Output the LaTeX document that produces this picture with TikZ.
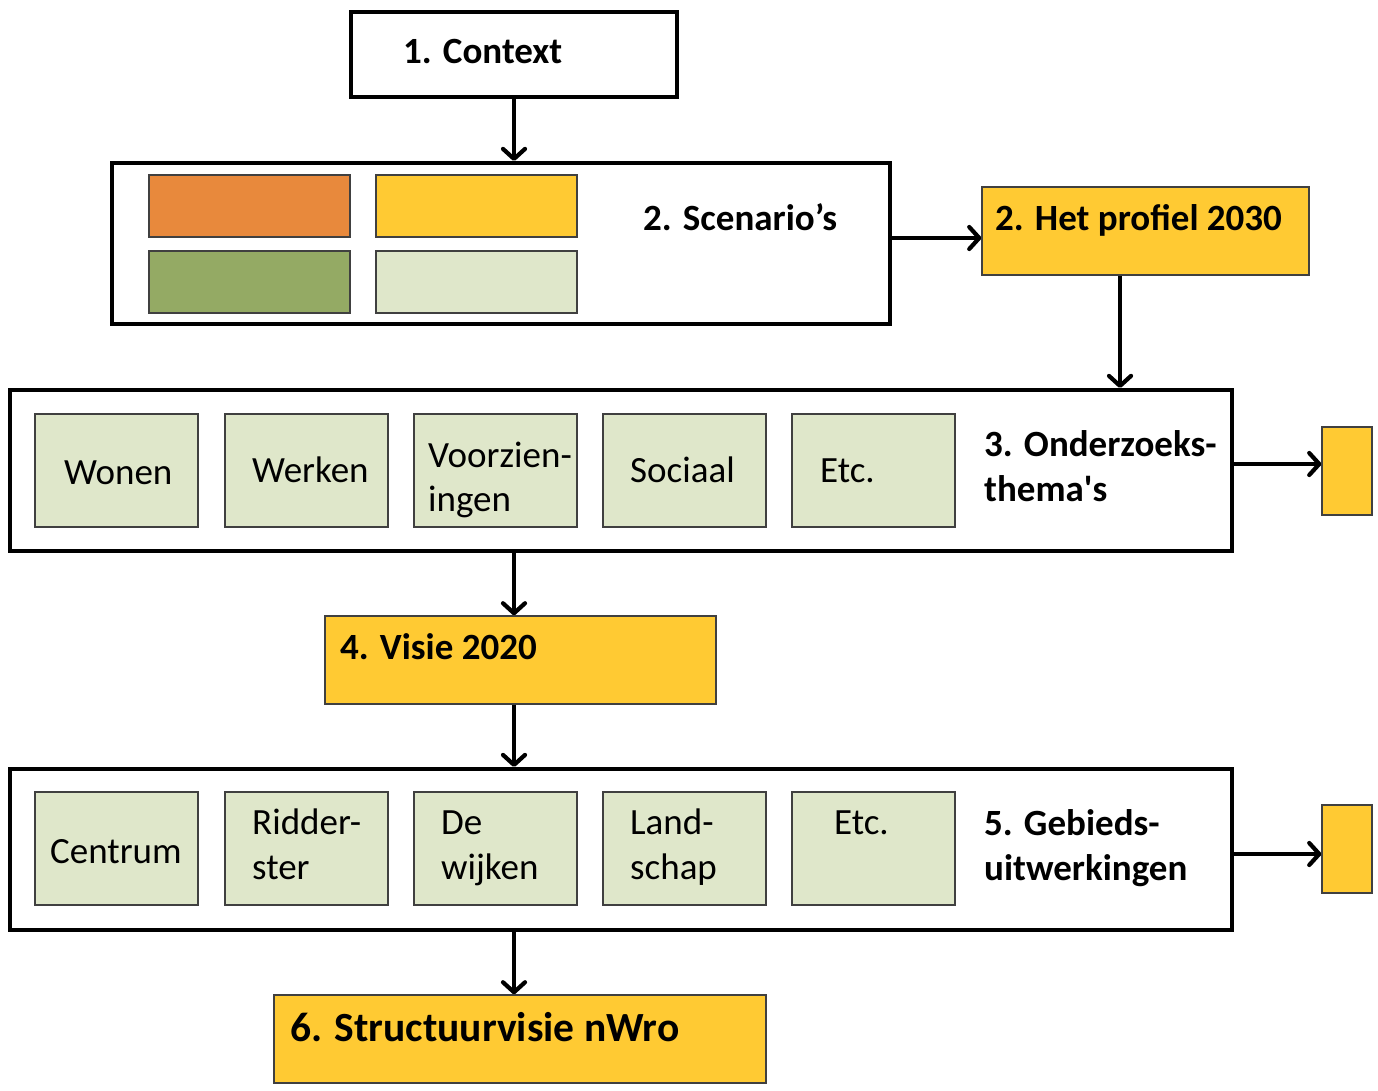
\documentclass[tikz,border=0pt]{standalone}
\usepackage{fontspec}
\setmainfont{Carlito}[Ligatures=TeXOff]
\usetikzlibrary{arrows.meta,calc}
\definecolor{cOrange}{HTML}{E8893C}
\definecolor{cYellow}{HTML}{FFCA33}
\definecolor{cGreen}{HTML}{94AA64}
\definecolor{cLight}{HTML}{DFE7CA}
\definecolor{cEdge}{HTML}{404040}
\begin{document}
\begin{tikzpicture}[x=1pt,y=-1pt,
  bigbox/.style={draw=black,line width=4pt,fill=white,inner sep=0pt},
  smallbox/.style={draw=cEdge,line width=1.3pt,inner sep=0pt},
  themebox/.style={smallbox,fill=cLight,minimum width=163pt,minimum height=113pt},
  ybox/.style={smallbox,fill=cYellow},
  arr/.style={line width=4.2pt,-{Straight Barb[length=10pt,width=22pt,line width=0pt 1,round]}},
  ttl/.style={anchor=base west,inner sep=0pt,font=\fontsize{37}{44}\selectfont\bfseries},
  txt/.style={anchor=base west,inner sep=0pt,font=\fontsize{37}{44}\selectfont}]
\useasboundingbox[fill=white] (0,0) rectangle (1378,1090);

% 1. Context
\node[bigbox,minimum width=326pt,minimum height=85pt] (ctx) at (514,54.5) {};
\node[ttl] (ctxt) at (403,63) {1. Context};

% 2. Scenario's
\node[bigbox,minimum width=778pt,minimum height=161pt] (scen) at (501,243.5) {};
\node[smallbox,fill=cOrange,minimum width=201pt,minimum height=62pt] (s1) at (249.5,206) {};
\node[smallbox,fill=cYellow,minimum width=201pt,minimum height=62pt] (s2) at (476.5,206) {};
\node[smallbox,fill=cGreen,minimum width=201pt,minimum height=62pt] (s3) at (249.5,282) {};
\node[smallbox,fill=cLight,minimum width=201pt,minimum height=62pt] (s4) at (476.5,282) {};
\node[ttl] (scent) at (643,230) {2. Scenario’s};

% 2. Het profiel 2030
\node[ybox,minimum width=327pt,minimum height=88pt] (prof) at (1145.5,231) {};
\node[ttl] (proft) at (995,230) {2. Het profiel 2030};

% 3. Onderzoeksthema's
\node[bigbox,minimum width=1222pt,minimum height=161pt] (ond) at (621,470.5) {};
\node[themebox] (o1) at (116.5,470.5) {};
\node[themebox] (o2) at (306.5,470.5) {};
\node[themebox] (o3) at (495.5,470.5) {};
\node[themebox] (o4) at (684.5,470.5) {};
\node[themebox] (o5) at (873.5,470.5) {};
\node[txt] (o1t) at (64,484) {Wonen};
\node[txt] (o2t) at (252,482) {Werken};
\node[txt] (o3t) at (428,467) {Voorzien-};
\node[txt] (o3u) at (428,511) {ingen};
\node[txt] (o4t) at (630,482) {Sociaal};
\node[txt] (o5t) at (820,482) {Etc.};
\node[ttl] (ondt) at (984,456) {3. Onderzoeks-};
\node[ttl] (ondu) at (984,501) {thema's};
\node[ybox,minimum width=50pt,minimum height=88pt] (y1) at (1347,471) {};

% 4. Visie 2020
\node[ybox,minimum width=391pt,minimum height=88pt] (vis) at (520.5,660) {};
\node[ttl] (vist) at (340,659) {4. Visie 2020};

% 5. Gebiedsuitwerkingen
\node[bigbox,minimum width=1222pt,minimum height=161pt] (geb) at (621,849.5) {};
\node[themebox] (g1) at (116.5,848.5) {};
\node[themebox] (g2) at (306.5,848.5) {};
\node[themebox] (g3) at (495.5,848.5) {};
\node[themebox] (g4) at (684.5,848.5) {};
\node[themebox] (g5) at (873.5,848.5) {};
\node[txt] (g1t) at (50,863) {Centrum};
\node[txt] (g2t) at (252,834) {Ridder-};
\node[txt] (g2u) at (252,879) {ster};
\node[txt] (g3t) at (441,834) {De};
\node[txt] (g3u) at (441,879) {wijken};
\node[txt] (g4t) at (630,834) {Land-};
\node[txt] (g4u) at (630,879) {schap};
\node[txt] (g5t) at (834,834) {Etc.};
\node[ttl] (gebt) at (984,835) {5. Gebieds-};
\node[ttl] (gebu) at (984,880) {uitwerkingen};
\node[ybox,minimum width=50pt,minimum height=88pt] (y2) at (1347,849) {};

% 6. Structuurvisie
\node[ybox,minimum width=492pt,minimum height=88pt] (str) at (520,1039) {};
\node[ttl,font=\fontsize{41.5}{48}\selectfont\bfseries] (strt) at (290,1041) {6. Structuurvisie nWro};

% connectors
\draw[arr] (ctx.south) -- (ctx.south |- scen.north);
\draw[arr] ([yshift=5.5pt]scen.east) -- ([yshift=5.5pt]scen.east -| prof.west);
\draw[arr] ([xshift=-25.5pt]prof.south) -- ([xshift=-25.5pt]prof.south |- ond.north);
\draw[arr] ([yshift=6.5pt]ond.east) -- ([yshift=6.5pt]ond.east -| y1.west);
\draw[arr] (ond.south -| ctx.south) -- (vis.north -| ctx.south);
\draw[arr] (vis.south -| ctx.south) -- (geb.north -| ctx.south);
\draw[arr] ([yshift=-4.5pt]geb.east) -- ([yshift=-4.5pt]geb.east -| y2.west);
\draw[arr] (geb.south -| ctx.south) -- (str.north -| ctx.south);
\end{tikzpicture}
\end{document}
